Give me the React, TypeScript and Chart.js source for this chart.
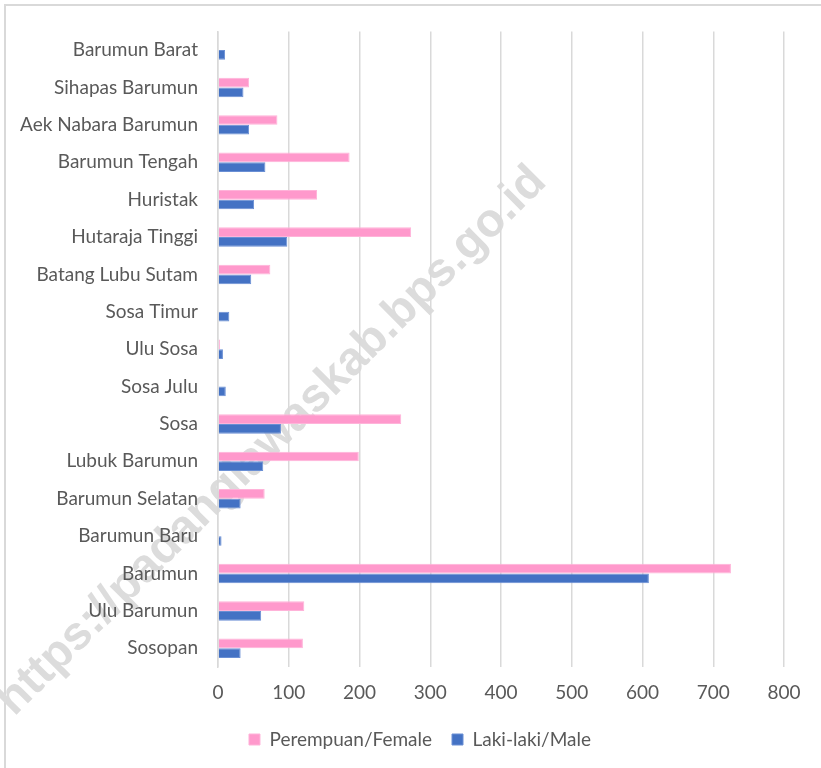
import React, { useEffect, useRef } from "react";
import { Chart, registerables } from "chart.js";

Chart.register(...registerables);

const categories = [
  "Barumun Barat",
  "Sihapas Barumun",
  "Aek Nabara Barumun",
  "Barumun Tengah",
  "Huristak",
  "Hutaraja Tinggi",
  "Batang Lubu Sutam",
  "Sosa Timur",
  "Ulu Sosa",
  "Sosa Julu",
  "Sosa",
  "Lubuk Barumun",
  "Barumun Selatan",
  "Barumun Baru",
  "Barumun",
  "Ulu Barumun",
  "Sosopan",
];

const femaleValues = [0, 44, 84, 186, 140, 273, 74, 0, 3, 0, 259, 199, 66, 0, 725, 122, 120];
const maleValues = [10, 36, 44, 67, 51, 98, 47, 16, 7, 11, 89, 64, 32, 5, 609, 61, 32];

const femaleLabel = "Perempuan/Female";
const maleLabel = "Laki-laki/Male";
const watermarkText = "https://padanglawaskab.bps.go.id";

const FONT = "Lato, 'Liberation Sans', sans-serif";

const watermarkPlugin = {
  id: "watermark",
  beforeDraw(chart: any) {
    const ctx = chart.ctx;
    ctx.save();
    ctx.translate(272, 441);
    ctx.rotate(-Math.PI / 4);
    ctx.font = "bold 47px 'Liberation Sans', Arial, sans-serif";
    ctx.fillStyle = "#DCDCDC";
    ctx.textAlign = "center";
    ctx.textBaseline = "middle";
    ctx.fillText(watermarkText, 0, 0);
    ctx.restore();
  },
};

const legendShiftPlugin = {
  id: "legendShift",
  afterUpdate(chart: any) {
    const lg = chart.legend;
    if (lg) {
      lg.left += 28;
      lg.right += 28;
    }
  },
};

export default function App() {
  const ref = useRef<HTMLCanvasElement | null>(null);

  useEffect(() => {
    if (!ref.current) return;
    const chart = new Chart(ref.current, {
      type: "bar",
      data: {
        labels: categories,
        datasets: [
          {
            label: femaleLabel,
            data: femaleValues,
            backgroundColor: "#FF99CC",
            borderColor: "#FFB3D9",
            borderWidth: 1,
            categoryPercentage: 0.52,
            barPercentage: 1,
          },
          {
            label: maleLabel,
            data: maleValues,
            backgroundColor: "#4472C4",
            borderColor: "#6A8FD4",
            borderWidth: 1,
            categoryPercentage: 0.52,
            barPercentage: 1,
          },
        ],
      },
      options: {
        indexAxis: "y",
        animation: false,
        responsive: false,
        maintainAspectRatio: false,
        layout: { padding: { left: 0, right: 37, top: 30, bottom: 9 } },
        plugins: {
          legend: {
            position: "bottom",
            labels: {
              boxWidth: 11,
              boxHeight: 11,
              padding: 20,
              color: "#595959",
              font: { family: FONT, size: 19 },
            },
          },
          tooltip: { enabled: false },
        },
        scales: {
          x: {
            min: 0,
            max: 800,
            ticks: {
              stepSize: 100,
              color: "#595959",
              padding: 14,
              font: { family: FONT, size: 19 },
            },
            grid: { color: "#D9D9D9", lineWidth: 1.5, drawTicks: false },
            border: { display: false },
            afterFit: (scale: any) => {
              scale.height = 43;
            },
          },
          y: {
            ticks: {
              color: "#595959",
              padding: 20,
              font: { family: FONT, size: 19 },
              autoSkip: false,
            },
            grid: { display: false, drawTicks: false },
            border: { display: true, color: "#D9D9D9", width: 1.5 },
            afterFit: (scale: any) => {
              scale.width = 218;
            },
          },
        },
      },
      plugins: [watermarkPlugin, legendShiftPlugin],
    } as any);
    return () => chart.destroy();
  }, []);

  return (
    <div style={{ position: "absolute", left: 0, top: 0, width: 821, height: 768, background: "#fff", overflow: "hidden" }}>
      <div
        style={{
          position: "absolute",
          left: 4,
          top: 4,
          width: 900,
          height: 900,
          borderTop: "2px solid #D9D9D9",
          borderLeft: "2px solid #D9D9D9",
        }}
      />
      <canvas ref={ref} width={821} height={768} style={{ position: "absolute", left: 0, top: 0 }} />
    </div>
  );
}
